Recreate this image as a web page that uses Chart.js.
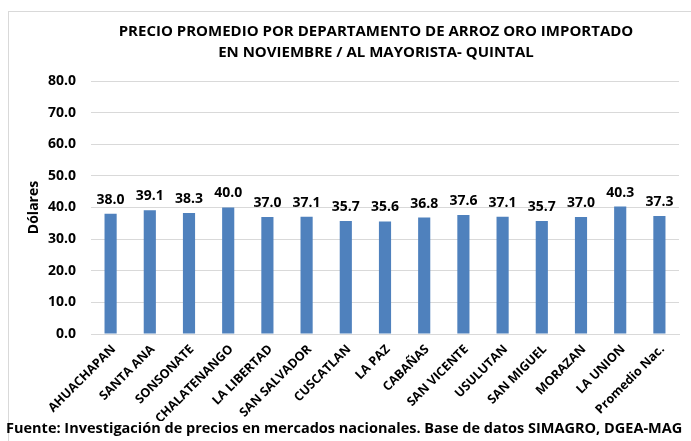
<!DOCTYPE html>
<html>
<head>
<meta charset="utf-8">
<script src="https://cdn.jsdelivr.net/npm/chart.js@4"></script>
<style>
  html, body { margin: 0; padding: 0; background: #fff; }
  #wrap { position: relative; width: 691px; height: 441px; overflow: hidden; }
  #frame { position: absolute; left: 8px; top: 11px; width: 700px; height: 460px; border: 1px solid #d9d9d9; }
  #c { position: absolute; left: 0; top: 0; }
  #titulo { position: absolute; left: 76px; width: 600px; top: 20px; text-align: center; font: bold 15px/21px "Open Sans", sans-serif; color: #000; white-space: nowrap; }
  #fuente { position: absolute; left: 6px; top: 418px; font: bold 14.5px "Open Sans", sans-serif; color: #000; white-space: nowrap; }
</style>
</head>
<body>
<div id="wrap">
  <div id="frame"></div>
  <canvas id="c" width="691" height="441"></canvas>
  <div id="titulo">PRECIO PROMEDIO POR DEPARTAMENTO DE ARROZ ORO IMPORTADO<br>EN NOVIEMBRE / AL MAYORISTA- QUINTAL</div>
  <div id="fuente">Fuente: Investigación de precios en mercados nacionales. Base de datos SIMAGRO, DGEA-MAG</div>
</div>
<script>
const departamentos = ['AHUACHAPAN', 'SANTA ANA', 'SONSONATE', 'CHALATENANGO', 'LA LIBERTAD', 'SAN SALVADOR',
    'CUSCATLAN', 'LA PAZ', 'CABAÑAS', 'SAN VICENTE', 'USULUTAN', 'SAN MIGUEL', 'MORAZAN', 'LA UNION', 'Promedio Nac.'];
const precios = [38.0, 39.1, 38.3, 40.0, 37.0, 37.1, 35.7, 35.6, 36.8, 37.6, 37.1, 35.7, 37.0, 40.3, 37.3];
const yTicks = [0, 10, 20, 30, 40, 50, 60, 70, 80];

const FONT = '"Open Sans", sans-serif';

// draw value labels over each bar
const valueLabels = {
    id: 'valueLabels',
    afterDatasetsDraw(chart) {
        const ctx = chart.ctx;
        const meta = chart.getDatasetMeta(0);
        ctx.save();
        ctx.font = 'bold 14px ' + FONT;
        ctx.fillStyle = '#000';
        ctx.textAlign = 'center';
        ctx.textBaseline = 'bottom';
        meta.data.forEach((bar, i) => {
            ctx.fillText(precios[i].toFixed(1), bar.x, bar.y - 7);
        });
        ctx.restore();
    }
};

new Chart(document.getElementById('c'), {
    type: 'bar',
    data: {
        labels: departamentos,
        datasets: [{
            data: precios,
            backgroundColor: '#4f81bd',
            categoryPercentage: 0.62,
            barPercentage: 0.5
        }]
    },
    options: {
        responsive: false,
        animation: false,
        layout: { padding: { left: 14, right: 12, top: 81, bottom: 20 } },
        plugins: {
            legend: { display: false },
            tooltip: { enabled: false },
            title: { display: false }
        },
        scales: {
            x: {
                grid: { display: false, drawTicks: false },
                border: { color: '#d9d9d9' },
                afterFit(scale) { scale.height = 87; },
                ticks: {
                    color: '#000',
                    font: { family: FONT, size: 12.5, weight: 'bold' },
                    minRotation: 45,
                    maxRotation: 45,
                    autoSkip: false,
                    labelOffset: 3,
                    padding: 8
                }
            },
            y: {
                min: 0,
                max: 80,
                afterBuildTicks(scale) {
                    scale.ticks = yTicks.map(v => ({ value: v }));
                },
                afterFit(scale) { scale.width = 77; },
                grid: { color: '#d9d9d9', drawTicks: false },
                border: { display: false },
                ticks: {
                    color: '#000',
                    font: { family: FONT, size: 14, weight: 'bold' },
                    padding: 15,
                    callback: v => v.toFixed(1)
                },
                title: {
                    display: true,
                    text: 'Dólares',
                    color: '#000',
                    font: { family: FONT, size: 14, weight: 'bold' },
                    padding: { top: 12, bottom: 4 }
                }
            }
        }
    },
    plugins: [valueLabels]
});
</script>
</body>
</html>
